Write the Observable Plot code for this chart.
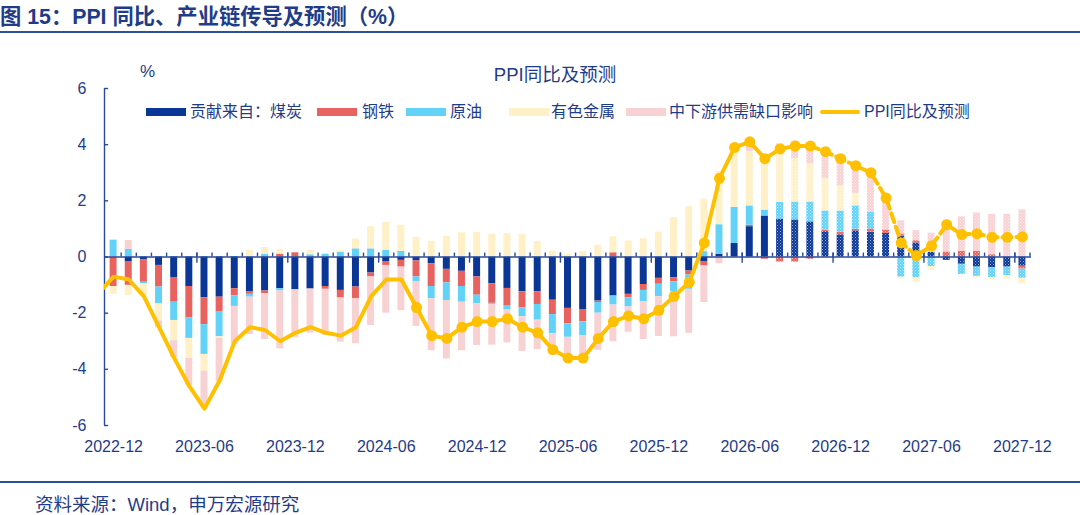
<!DOCTYPE html>
<html>
<head>
<meta charset="utf-8">
<script src="https://cdn.jsdelivr.net/npm/d3@7"></script>
<script src="https://cdn.jsdelivr.net/npm/@observablehq/plot@0.6"></script>
<style>
  html, body { margin: 0; padding: 0; background: #fff; }
  #wrap { position: relative; width: 1080px; height: 515px; overflow: hidden;
          font-family: "Liberation Sans", "Noto Sans CJK SC", sans-serif; color: #1F3C88; }
  #chart { position: absolute; left: 0; top: 0; }
  #title { position: absolute; left: 0; top: 4px; font-size: 21.3px; font-weight: bold; line-height: 26px; white-space: nowrap; }
  #titleline { position: absolute; left: 0; top: 31px; width: 1080px; height: 1.5px; background: #2E4E9E; }
  #unit { position: absolute; left: 140px; top: 61px; font-size: 17px; line-height: 22px; }
  #ctitle { position: absolute; left: 0; width: 1110px; text-align: center; top: 64px; font-size: 18.5px; line-height: 22px; white-space: nowrap; }
  .sw { position: absolute; }
  .lt { position: absolute; font-size: 16px; line-height: 20px; white-space: nowrap; }
  #footline { position: absolute; left: 0; top: 481px; width: 1080px; height: 1.5px; background: #2E4E9E; }
  #source { position: absolute; left: 35px; top: 493px; font-size: 18.5px; line-height: 24px; white-space: nowrap; }
</style>
</head>
<body>
<div id="wrap">
  <div id="chart"></div>
  <div id="title">图 15：PPI 同比、产业链传导及预测（%）</div>
  <div id="titleline"></div>
  <div id="unit">%</div>
  <div id="ctitle">PPI同比及预测</div>
  <div id="legend"></div>
  <div id="footline"></div>
  <div id="source">资料来源：Wind，申万宏源研究</div>
</div>
<script>
// ---------------- data ----------------
const startMonth = "2022-12";
const xTickLabels = ["2022-12","2023-06","2023-12","2024-06","2024-12","2025-06","2025-12","2026-06","2026-12","2027-06","2027-12"];
const yTicks = [-6, -4, -2, 0, 2, 4, 6];

const seriesNames = ["贡献来自：煤炭", "钢铁", "原油", "有色金属", "中下游供需缺口影响"];
const lineName = "PPI同比及预测";

// contributions, monthly 2022-12 .. 2027-12
const coal = [0,-0.18,-0.1,-0.3,-0.75,-1.05,-1.45,-1.43,-1.13,-1.23,
  -1.21,-1.13,-1.17,-1.14,-1.05,-1.19,-1.07,-0.57,-0.18,-0.12,
  -0.14,-0.24,-0.44,-0.51,-0.71,-0.95,-1.12,-1.24,-1.24,-1.54,
  -1.83,-1.87,-1.57,-1.39,-1.33,-0.98,-0.76,-0.74,-0.5,-0.18,
  0.1,0.48,1.08,1.46,1.35,1.32,1.25,0.9,0.79,0.93,
  0.88,0.84,0.74,0.5,0.17,-0.12,-0.26,-0.36,-0.38,-0.36,-0.33];
const steel = [-1.05,-0.83,-0.8,-0.77,-0.86,-1.12,-0.96,-0.51,-0.25,-0.1,
  -0.1,0.1,0.15,0,-0.1,-0.27,-0.42,-0.14,-0.12,-0.24,
  -0.57,-0.81,-0.48,-0.54,-0.65,-0.7,-0.63,-0.57,-0.45,-0.51,
  -0.55,-0.44,-0.05,0.15,-0.12,-0.21,-0.21,-0.14,-0.14,-0.14,
  0,0,0.05,-0.08,-0.18,-0.18,-0.08,0.05,0.1,0.06,
  0.12,0.12,0.08,0.08,0,0.18,0.21,0.21,0.08,0,-0.1];
const oil = [0.6,0.27,-0.06,-0.6,-0.65,-0.73,-1.06,-0.9,-0.38,-0.1,
  0.1,-0.08,0,0.08,0.1,0.17,0.29,0.29,0.24,0.2,
  -0.18,-0.44,-0.63,-0.56,-0.3,-0.04,-0.14,-0.32,-0.56,-0.68,
  -0.48,-0.5,-0.38,-0.32,-0.33,-0.4,-0.44,-0.36,-0.51,0.19,
  1.05,1.29,0.69,0.21,0.6,0.64,0.71,0.69,0.75,0.83,
  0.6,0,-0.72,-0.75,-0.34,0,-0.36,-0.33,-0.36,-0.3,-0.33];
const nonferrous = [-0.28,-0.36,-0.4,-0.6,-0.72,-0.71,-0.6,-0.05,0,0.24,
  0.24,0.17,0,0.15,0,0.07,0.35,0.79,0.99,0.93,
  0.69,0.56,0.74,0.86,0.88,0.81,0.83,0.81,0.55,0.21,
  0.1,0.19,0.42,0.57,0.57,0.65,0.89,1.4,1.79,1.87,
  1.9,2.14,1.94,1.9,1.79,1.55,1.35,1.15,0.89,0.44,
  0,-0.06,-0.07,-0.15,-0.13,0,0,-0.06,-0.07,-0.14,-0.2];
const downstream = [0,0.32,0,-0.25,-0.6,-0.95,-1.3,-1.55,-1.35,-1.33,
  -1.63,-2.06,-1.7,-1.57,-1.64,-1.57,-1.6,-1.73,-1.7,-1.55,
  -1.58,-1.85,-2.08,-1.73,-1.49,-1.45,-1.17,-1.23,-1.05,-0.75,
  -0.84,-0.98,-1.32,-1.31,-0.9,-1.35,-1.42,-1.6,-1.57,-1.3,
  -0.24,0,0.32,0,0.29,0.62,0.7,0.95,0.97,0.99,
  1.4,1.24,0.47,0.36,0.68,1.13,1.22,1.36,1.44,1.52,1.68];

// PPI yoy, monthly 2022-11 .. 2027-12 (first value is the month before the axis start)
const ppi = [-1.3,
  -0.7,-0.8,-1.4,-2.5,-3.6,-4.6,-5.4,-4.4,-3.0,-2.5,
  -2.6,-3.0,-2.7,-2.5,-2.7,-2.8,-2.5,-1.4,-0.8,-0.8,
  -1.8,-2.8,-2.9,-2.5,-2.3,-2.3,-2.2,-2.5,-2.7,-3.3,
  -3.6,-3.6,-2.9,-2.3,-2.1,-2.2,-1.9,-1.4,-0.9,0.5,
  2.8,3.9,4.1,3.5,3.85,3.95,3.95,3.75,3.5,3.25,
  3.0,2.1,0.5,0.05,0.4,1.15,0.8,0.83,0.7,0.7,0.72];

const forecastBarStart = "2026-08";   // hatched bars from here
const dashedLineStart = "2026-10";    // dashed line from here
const markerStart = "2024-08";        // markers from here

// ---------------- styles ----------------
const seriesColors = ["#0A3796", "#E8625F", "#62D2F8", "#FFF0C8", "#F8D2D3"];
const lineColor = "#FFC000";
const axisColor = "#2A4A9C";
const textColor = "#1F3C88";

// ---------------- build ----------------
const parse = d3.utcParse("%Y-%m");
const fmt = d3.utcFormat("%Y-%m");
const t0 = parse(startMonth);
const months = coal.map((_, i) => fmt(d3.utcMonth.offset(t0, i)));
const idx = m => months.indexOf(m);
const fcIdx = idx(forecastBarStart), dashIdx = idx(dashedLineStart), mkIdx = idx(markerStart);

const series = [coal, steel, oil, nonferrous, downstream];
const rows = [];
months.forEach((m, i) => {
  let pos = 0, neg = 0;
  series.forEach((arr, s) => {
    const v = arr[i];
    if (v === 0) return;
    let y1, y2;
    if (v > 0) { y1 = pos; y2 = pos + v; pos = y2; }
    else { y1 = neg; y2 = neg + v; neg = y2; }
    rows.push({i, y1, y2, fill: i >= fcIdx ? `url(#pat${s})` : seriesColors[s]});
  });
});

const ppiRows = ppi.map((v, k) => ({i: k - 1, v}));
const solid = ppiRows.filter(d => d.i <= dashIdx);
const dashed = ppiRows.filter(d => d.i >= dashIdx);
const marked = ppiRows.filter(d => d.i >= mkIdx);

const xDomain = [-0.6, months.length - 1 + 0.6];
const labelIdx = xTickLabels.map(idx);
const monthTicks = months.map((m, i) => i + 0.5);
const longTicks = labelIdx.filter(i => i > 0).map(i => i - 0.5);

const chart = Plot.plot({
  width: 1080,
  height: 470,
  marginTop: 88,
  marginBottom: 45,
  marginLeft: 104,
  marginRight: 49,
  x: {domain: xDomain},
  y: {domain: [yTicks[0], yTicks[yTicks.length - 1]]},
  color: {type: "identity"},
  style: {fontFamily: '"Liberation Sans", "Noto Sans CJK SC", sans-serif', color: textColor, background: "transparent"},
  marks: [
    Plot.rect(rows, {x1: d => d.i - 0.23, x2: d => d.i + 0.23, y1: "y1", y2: "y2", fill: "fill"}),
    Plot.ruleY([0], {stroke: axisColor, strokeWidth: 1.6}),
    Plot.ruleX(monthTicks, {y1: 0, y2: 0.14, stroke: axisColor, strokeWidth: 1.4}),
    Plot.ruleX(longTicks, {y1: 0.14, y2: -0.22, stroke: axisColor, strokeWidth: 1.4}),
    Plot.ruleX([xDomain[0]], {y1: yTicks[0], y2: yTicks[yTicks.length - 1], stroke: axisColor, strokeWidth: 1.4}),
    Plot.ruleY(yTicks, {x1: xDomain[0], x2: xDomain[0] + 0.27, stroke: axisColor, strokeWidth: 1.4}),
    Plot.line(solid, {x: "i", y: "v", stroke: lineColor, strokeWidth: 4, clip: true, curve: "linear"}),
    Plot.line(dashed, {x: "i", y: "v", stroke: lineColor, strokeWidth: 4, strokeDasharray: "9,5", clip: true}),
    Plot.dot(marked, {x: "i", y: "v", r: 5.5, fill: lineColor, stroke: "none"}),
    Plot.axisX(labelIdx, {anchor: "bottom", tickSize: 0, tickPadding: 15, fontSize: 16, tickFormat: i => months[i], label: null}),
    Plot.axisY(yTicks, {anchor: "left", tickSize: 0, tickPadding: 18, fontSize: 16, tickFormat: d => String(d), label: null})
  ]
});

// hatched patterns for forecast bars
const defs = d3.select(chart).insert("defs", ":first-child");
seriesColors.forEach((c, s) => {
  const p = defs.append("pattern").attr("id", `pat${s}`).attr("patternUnits", "userSpaceOnUse")
    .attr("width", 3).attr("height", 3);
  p.append("rect").attr("width", 3).attr("height", 3).attr("fill", c);
  p.append("rect").attr("x", 0).attr("y", 0).attr("width", 1).attr("height", 1).attr("fill", "#fff").attr("fill-opacity", 0.6);
  p.append("rect").attr("x", 1.5).attr("y", 1.5).attr("width", 1).attr("height", 1).attr("fill", "#fff").attr("fill-opacity", 0.45);
});
document.getElementById("chart").appendChild(chart);

// legend
const legend = document.getElementById("legend");
const swX = [146, 317, 406, 509, 626, 820];
const txX = [190, 362, 450, 551, 669, 864];
const legendY = 112;
const names = [...seriesNames, lineName];
names.forEach((n, k) => {
  const sw = document.createElement("div");
  sw.className = "sw";
  const isLine = k === names.length - 1;
  const h = isLine ? 4 : 8;
  sw.style.cssText = `left:${swX[k]}px;top:${legendY - h / 2}px;width:40px;height:${h}px;background:${isLine ? lineColor : seriesColors[k]};` + (isLine ? "border-radius:2px;" : "");
  legend.appendChild(sw);
  const tx = document.createElement("div");
  tx.className = "lt";
  tx.style.left = txX[k] + "px";
  tx.style.top = (legendY - 10) + "px";
  tx.textContent = n;
  legend.appendChild(tx);
});
</script>
</body>
</html>
